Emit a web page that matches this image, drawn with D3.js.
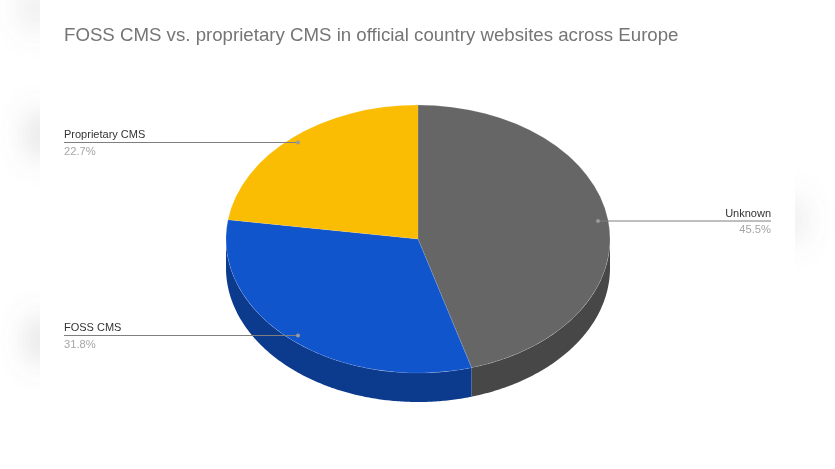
<!DOCTYPE html>
<html><head><meta charset="utf-8">
<script src="https://cdn.jsdelivr.net/npm/d3@7"></script>
<style>html,body{margin:0;padding:0;background:#fff}svg{display:block}text{font-family:"Liberation Sans",Arial,sans-serif}</style>
</head><body><svg id="c" width="835" height="469"></svg>
<script>
const titleText = "FOSS CMS vs. proprietary CMS in official country websites across Europe";
const categories = ["Unknown", "FOSS CMS", "Proprietary CMS"];
const values = [45.5, 31.8, 22.7];
const topColors = ["#666666", "#1155cc", "#fbbc04"];
const sideColors = ["#474747", "#0c3b8e", "#b08403"];
const labelY = [221, 335.5, 142.5];
const dotX = [598, 298, 298];
const labelEnd = [771, 64, 64];

const W = 835, H = 469, cx = 418, cy = 239, rx = 192, ry = 134, depth = 29;
const svg = d3.select("#c");
const defs = svg.append("defs");
defs.append("filter").attr("id","blur").attr("x","-150%").attr("y","-150%").attr("width","400%").attr("height","400%")
  .append("feGaussianBlur").attr("stdDeviation",15);
defs.append("clipPath").attr("id","edge").selectAll("rect").data([[0,40],[795,40]]).join("rect")
  .attr("x",d=>d[0]).attr("y",0).attr("width",d=>d[1]).attr("height",H);

// faint blurred patches at the picture's edges
svg.append("g").attr("clip-path","url(#edge)").append("g").attr("filter","url(#blur)")
  .selectAll("ellipse").data([[36,8,14,24,.17],[42,135,14,24,.25],[42,340,14,24,.25],[790,220,14,24,.17]]).join("ellipse")
  .attr("cx",d=>d[0]).attr("cy",d=>d[1]).attr("rx",d=>d[2]).attr("ry",d=>d[3]).attr("fill","#777").attr("opacity",d=>d[4]);

const pie = d3.pie().sort(null).value(d=>d)(values);
const k = ry/rx;
const px = a => Math.sin(a)*rx, py = a => -Math.cos(a)*ry;

// side wall: only the front half (angles between PI/2 and 3PI/2)
const wall = svg.append("g").attr("transform",`translate(${cx},${cy})`);
pie.forEach((s,i)=>{
  const a0 = Math.max(s.startAngle, Math.PI/2), a1 = Math.min(s.endAngle, Math.PI*1.5);
  if (a1 <= a0) return;
  const angles = d3.range(a0, a1, 0.01).concat([a1]);
  const area = d3.area().x(a=>px(a)).y0(a=>py(a)).y1(a=>py(a)+depth);
  wall.append("path").attr("d",area(angles)).attr("fill",sideColors[i]);
});

// top face
const arc = d3.arc().innerRadius(0).outerRadius(rx);
svg.append("g").attr("transform",`translate(${cx},${cy}) scale(1,${k})`)
  .selectAll("path").data(pie).join("path").attr("d",arc)
  .attr("fill",(d,i)=>topColors[i])
  .attr("stroke","rgba(255,255,255,0.18)").attr("stroke-width",0.6).attr("vector-effect","non-scaling-stroke");

// leaders
categories.forEach((c,i)=>{
  const y = labelY[i], right = i===0;
  svg.append("line").attr("x1",dotX[i]).attr("x2",labelEnd[i]).attr("y1",y).attr("y2",y)
    .attr("stroke","#7f7f7f").attr("stroke-width",1);
  svg.append("circle").attr("cx",dotX[i]).attr("cy",y).attr("r",2).attr("fill","#9a9a9a");
  svg.append("text").attr("x",labelEnd[i]).attr("y",y-4.5).attr("text-anchor",right?"end":"start")
    .attr("font-size",11).attr("fill","#333333").text(c);
  svg.append("text").attr("x",labelEnd[i]).attr("y",y+12).attr("text-anchor",right?"end":"start")
    .attr("font-size",11.2).attr("fill","#a6a6a6").text(values[i].toFixed(1)+"%");
});

svg.append("text").attr("x",64).attr("y",40.5).attr("font-size",18.67).attr("fill","#757575").text(titleText);
</script></body></html>
